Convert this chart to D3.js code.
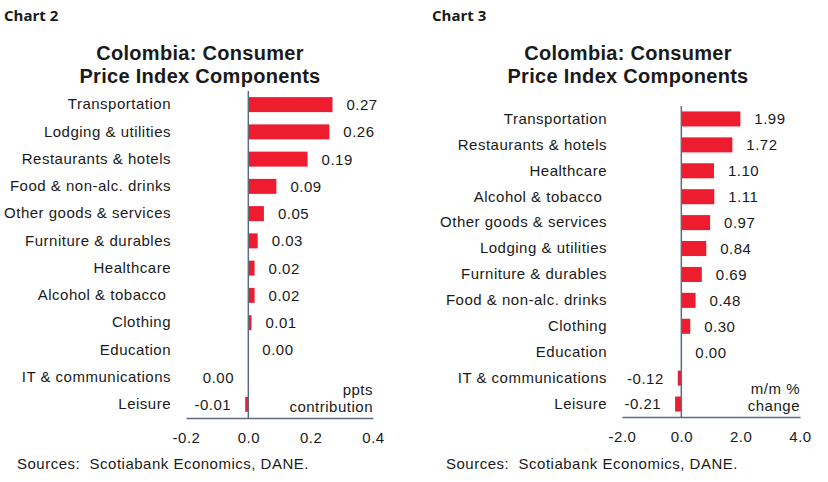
<!DOCTYPE html>
<html>
<head>
<meta charset="utf-8">
<script src="https://cdn.jsdelivr.net/npm/d3@7"></script>
<style>
  body { margin: 0; background: #fff; }
  svg text { fill: #1a1a1a; white-space: pre; }
</style>
</head>
<body>
<div id="chart"></div>
<script>
// Chart 2: contribution to monthly CPI, ppts
var contribCategories = ["Transportation", "Lodging & utilities", "Restaurants & hotels",
  "Food & non-alc. drinks", "Other goods & services", "Furniture & durables", "Healthcare",
  "Alcohol & tobacco ", "Clothing", "Education", "IT & communications", "Leisure"];
var contribValues = [0.27, 0.26, 0.19, 0.09, 0.05, 0.03, 0.02, 0.02, 0.01, 0.00, -0.001, -0.01];
var contribTicks = [-0.2, 0.0, 0.2, 0.4];

// Chart 3: m/m % change
var changeCategories = ["Transportation", "Restaurants & hotels", "Healthcare",
  "Alcohol & tobacco ", "Other goods & services", "Lodging & utilities", "Furniture & durables",
  "Food & non-alc. drinks", "Clothing", "Education", "IT & communications", "Leisure"];
var changeValues = [1.99, 1.72, 1.10, 1.11, 0.97, 0.84, 0.69, 0.48, 0.30, 0.00, -0.12, -0.21];
var changeTicks = [-2.0, 0.0, 2.0, 4.0];

var RED = "#ed1c2e", AXIS = "#5b6b80";
var FONT = "Arial, 'Liberation Sans', Helvetica, sans-serif";
var loc = d3.formatLocale({ decimal: ".", thousands: ",", grouping: [3], currency: ["$", ""], minus: "-" });
var f1 = loc.format(".1f"), f2 = loc.format(".2f");
function fmtVal(v) { var s = f2(v); return s === "-0.00" ? "0.00" : s; }

var svg = d3.select("#chart").append("svg")
  .attr("width", 828)
  .attr("height", 482)
  .attr("font-family", FONT);

function txt(sel, size) {
  return sel.attr("font-family", FONT).attr("font-size", size)
    .attr("letter-spacing", "0.5px").attr("fill", "#1a1a1a");
}

function draw(o) {
  var g = svg.append("g");

  g.append("text")
    .attr("x", o.chartX).attr("y", 21)
    .attr("font-family", "'Open Sans', sans-serif")
    .attr("font-weight", "bold").attr("font-size", 15)
    .text(o.chartLabel);

  o.title.forEach(function (t, i) {
    g.append("text")
      .attr("x", o.titleX).attr("y", 60 + i * 23)
      .attr("text-anchor", "middle")
      .attr("font-family", FONT)
      .attr("font-weight", "bold").attr("font-size", 20)
      .attr("letter-spacing", "0.3px")
      .text(t);
  });

  var x = d3.scaleLinear().domain(o.domain).range([o.x0, o.x1]);
  var y = d3.scaleBand().domain(o.categories).range([o.yTop, o.yBottom]).paddingInner(o.pad).paddingOuter(o.pad / 2);

  // category labels
  var yAxis = g.append("g")
    .attr("transform", "translate(" + o.labelX + ",0)")
    .call(d3.axisLeft(y).tickSize(0).tickPadding(0));
  yAxis.attr("font-family", FONT);
  yAxis.select(".domain").remove();
  txt(yAxis.selectAll("text"), 15);

  var data = o.categories.map(function (c, i) { return { cat: c, v: o.values[i] }; });

  g.selectAll("rect.bar").data(data).enter().append("rect")
    .attr("class", "bar")
    .attr("x", function (d) { return x(Math.min(0, d.v)); })
    .attr("y", function (d) { return y(d.cat); })
    .attr("width", function (d) { return Math.abs(x(d.v) - x(0)); })
    .attr("height", y.bandwidth())
    .attr("fill", RED);

  txt(g.selectAll("text.val").data(data).enter().append("text")
    .attr("class", "val")
    .attr("x", function (d) { return d.v < 0 ? x(d.v) - 14 : x(d.v) + 14; })
    .attr("y", function (d) { return y(d.cat) + y.bandwidth() / 2; })
    .attr("dy", "0.36em")
    .attr("text-anchor", function (d) { return d.v < 0 ? "end" : "start"; }), 15)
    .text(function (d) { return fmtVal(d.v); });

  // x axis
  var xAxis = g.append("g")
    .attr("transform", "translate(0," + o.yBottom + ")")
    .call(d3.axisBottom(x).tickValues(o.ticks).tickFormat(f1).tickSize(0).tickPadding(14));
  xAxis.attr("font-family", FONT);
  xAxis.select(".domain").attr("stroke", AXIS).attr("stroke-width", 1.5);
  txt(xAxis.selectAll("text"), 15);

  // vertical zero line
  g.append("line")
    .attr("x1", x(0)).attr("x2", x(0))
    .attr("y1", o.yTop).attr("y2", o.yBottom)
    .attr("stroke", AXIS).attr("stroke-width", 1.5);

  o.unit.forEach(function (t, i) {
    txt(g.append("text")
      .attr("x", o.x1).attr("y", o.unitY + i * 17)
      .attr("text-anchor", "end"), 15)
      .text(t);
  });

  txt(g.append("text")
    .attr("x", o.sourceX).attr("y", 469), 15)
    .text("Sources:  Scotiabank Economics, DANE.");
}

draw({
  chartLabel: "Chart 2", chartX: 4,
  title: ["Colombia: Consumer", "Price Index Components"], titleX: 200,
  categories: contribCategories, values: contribValues, ticks: contribTicks,
  domain: [-0.2, 0.4], x0: 186, x1: 373, yTop: 91, yBottom: 418, pad: 0.45,
  labelX: 171, unit: ["ppts", "contribution"], unitY: 395, sourceX: 17
});

draw({
  chartLabel: "Chart 3", chartX: 432,
  title: ["Colombia: Consumer", "Price Index Components"], titleX: 628,
  categories: changeCategories, values: changeValues, ticks: changeTicks,
  domain: [-2.0, 4.0], x0: 622, x1: 800, yTop: 106, yBottom: 417, pad: 0.42,
  labelX: 607, unit: ["m/m %", "change"], unitY: 394, sourceX: 446
});
</script>
</body>
</html>
